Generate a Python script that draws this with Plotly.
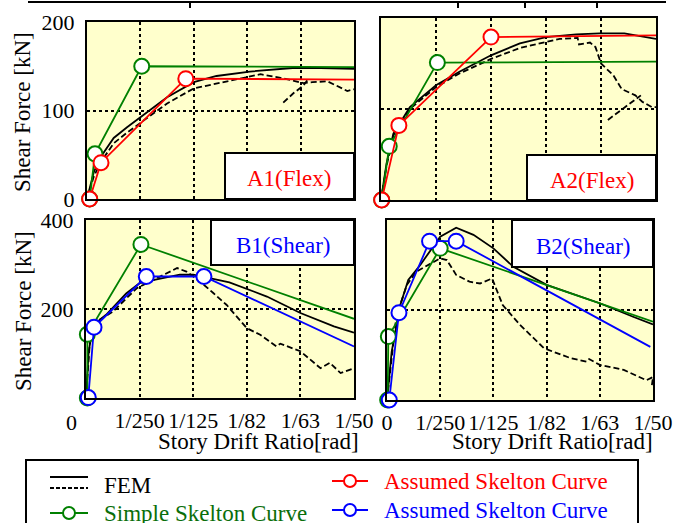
import plotly.graph_objects as go

W, H = 677, 523

# ---------------- data (story drift ratio [rad], shear force [kN]) ----------------
tick_vals = [0.004, 0.008, 0.012, 0.016, 0.020]
tick_text = ["1/250", "1/125", "1/82", "1/63", "1/50"]

# A1(Flex)
a1_fem_x = [0, 0.0005, 0.001, 0.002, 0.003, 0.0042, 0.006, 0.008, 0.0097, 0.0122, 0.0154, 0.0175, 0.020]
a1_fem_y = [0, 30, 47, 69, 81, 95, 115, 132, 139, 144, 148, 148, 147]
a1_exp_x = [0, 0.0005, 0.001, 0.002, 0.003, 0.0045, 0.006, 0.008, 0.011, 0.013, 0.0145, 0.0162, 0.0169, 0.018, 0.0187, 0.0195, 0.020]
a1_exp_y = [0, 25, 41, 63, 75, 92, 108, 125, 135, 141, 137, 131, 132, 133, 128, 122, 124]
a1_exp2_x = [0.0147, 0.0155, 0.0162, 0.0165]
a1_exp2_y = [109, 120, 128, 134]
a1_simple_x = [0.0002, 0.0006, 0.0041, 0.020]
a1_simple_y = [0, 51, 150, 149]
a1_assumed_x = [0.0002, 0.00105, 0.0074, 0.020]
a1_assumed_y = [0, 41, 136, 135]

# A2(Flex)
a2_fem_x = [0, 0.0004, 0.0009, 0.0021, 0.004, 0.0057, 0.008, 0.0101, 0.012, 0.0142, 0.0159, 0.0177, 0.020]
a2_fem_y = [0, 40, 73, 102, 126, 141, 159, 172, 179, 182, 183, 183, 177]
a2_exp_x = [0, 0.0004, 0.0009, 0.0021, 0.004, 0.0057, 0.008, 0.0101, 0.0118, 0.013, 0.0143, 0.0144, 0.0152, 0.0156,
            0.0160, 0.0169, 0.0175, 0.0185, 0.0190, 0.0197, 0.0200]
a2_exp_y = [0, 37, 71, 100, 124, 139, 155, 167, 173, 177, 178, 171, 173, 168, 150, 137, 122, 115, 108, 102, 102]
a2_exp2_x = [0.0165, 0.0177, 0.0189]
a2_exp2_y = [88, 102, 115]
a2_simple_x = [0.00005, 0.0006, 0.0041, 0.020]
a2_simple_y = [0, 59, 151, 152]
a2_assumed_x = [0.00005, 0.0013, 0.008, 0.020]
a2_assumed_y = [0, 82, 179, 181]

# B1(Shear)
b1_fem_x = [0, 0.0002, 0.00055, 0.0015, 0.003, 0.004, 0.005, 0.007, 0.008, 0.0107, 0.0135, 0.016, 0.0185, 0.020]
b1_fem_y = [0, 105, 164, 187, 235, 258, 265, 277, 277, 260, 228, 191, 161, 147]
b1_exp_x = [0, 0.0003, 0.0008, 0.002, 0.0038, 0.005, 0.0068, 0.0075, 0.0085, 0.0095, 0.0105, 0.012, 0.013,
            0.0142, 0.0145, 0.016, 0.0175, 0.0182, 0.019, 0.020]
b1_exp_y = [0, 130, 172, 194, 247, 265, 292, 284, 262, 236, 209, 157, 142, 116, 122, 105, 67, 79, 56, 67]
b1_simple_x = [0.0001, 0.0001, 0.0041, 0.020]
b1_simple_y = [0, 143, 345, 178]
b1_assumed_x = [0.00017, 0.0006, 0.0045, 0.0088, 0.020]
b1_assumed_y = [1, 159, 273, 273, 116]

# B2(Shear)
b2_fem_x = [0, 0.00035, 0.001, 0.0016, 0.0025, 0.004, 0.0052, 0.0065, 0.008, 0.0095, 0.012, 0.016, 0.0185, 0.020]
b2_fem_y = [0, 107, 211, 267, 300, 363, 383, 367, 337, 296, 256, 215, 185, 168]
b2_exp_x = [0, 0.0007, 0.0015, 0.0022, 0.004, 0.0045, 0.0052, 0.0062, 0.007, 0.0079, 0.0087, 0.010, 0.0118,
            0.0138, 0.015, 0.0152, 0.016, 0.0178, 0.0195, 0.020, 0.0199]
b2_exp_y = [0, 186, 256, 285, 315, 311, 278, 263, 259, 270, 211, 167, 115, 93, 85, 91, 78, 67, 44, 51, 29]
b2_simple_x = [0.00005, 0.0001, 0.004, 0.020]
b2_simple_y = [0, 141, 337, 174]
b2_assumed_x = [0.00017, 0.0009, 0.0032, 0.0052, 0.0198]
b2_assumed_y = [0, 194, 353, 353, 118]

# ---------------- styling ----------------
FONT = "Liberation Serif, Times New Roman, serif"
FS = 22
GREEN = "#008000"
GREEN_TXT = "#0a6e0a"
RED = "#FF0000"
BLUE = "#0000FF"
BG = "#FFFFCC"
DASH = "6px,3px"


def px(x):
    return x / W


def py(y):
    return 1 - y / H


fig = go.Figure()

panels = [
    ("", (a1_fem_x, a1_fem_y), (a1_exp_x, a1_exp_y), (a1_exp2_x, a1_exp2_y),
     (a1_simple_x, a1_simple_y), (a1_assumed_x, a1_assumed_y), RED),
    ("2", (a2_fem_x, a2_fem_y), (a2_exp_x, a2_exp_y), (a2_exp2_x, a2_exp2_y),
     (a2_simple_x, a2_simple_y), (a2_assumed_x, a2_assumed_y), RED),
    ("3", (b1_fem_x, b1_fem_y), (b1_exp_x, b1_exp_y), None,
     (b1_simple_x, b1_simple_y), (b1_assumed_x, b1_assumed_y), BLUE),
    ("4", (b2_fem_x, b2_fem_y), (b2_exp_x, b2_exp_y), None,
     (b2_simple_x, b2_simple_y), (b2_assumed_x, b2_assumed_y), BLUE),
]

for sfx, fem, exp, exp2, simple, assumed, acol in panels:
    xa, ya = "x" + sfx, "y" + sfx
    fig.add_trace(go.Scatter(x=exp[0], y=exp[1], mode="lines", xaxis=xa, yaxis=ya,
                             line=dict(color="black", width=1.8, dash=DASH)))
    if exp2 is not None:
        fig.add_trace(go.Scatter(x=exp2[0], y=exp2[1], mode="lines", xaxis=xa, yaxis=ya,
                                 line=dict(color="black", width=1.8, dash=DASH)))
    fig.add_trace(go.Scatter(x=fem[0], y=fem[1], mode="lines", xaxis=xa, yaxis=ya,
                             line=dict(color="black", width=1.8)))
    for (sx, sy), col in ((simple, GREEN), (assumed, acol)):
        fig.add_trace(go.Scatter(x=sx, y=sy, mode="lines", xaxis=xa, yaxis=ya,
                                 line=dict(color=col, width=1.8), cliponaxis=False))
        fig.add_trace(go.Scatter(x=sx[:-1], y=sy[:-1], mode="markers", xaxis=xa, yaxis=ya,
                                 cliponaxis=False,
                                 marker=dict(symbol="circle", size=15, color="white",
                                             line=dict(color=col, width=2))))

# ---------------- axes ----------------
doms = {
    "": ((87, 354), (22, 199)),
    "2": ((381, 656), (18, 200)),
    "3": ((86, 354), (220, 398)),
    "4": ((387, 653), (220, 400)),
}
layout = {}
for sfx, ((l, r), (t, b)) in doms.items():
    xa = dict(domain=[px(l), px(r)], range=[0, 0.02], showline=True, mirror=True,
              linecolor="black", linewidth=2, showgrid=True, gridcolor="black",
              griddash="dot", gridwidth=1.5, zeroline=False, ticks="",
              anchor="y" + sfx, fixedrange=True, automargin=False, tickangle=0)
    ya = dict(domain=[py(b), py(t)], showline=True, mirror=True,
              linecolor="black", linewidth=2, showgrid=True, gridcolor="black",
              griddash="dot", gridwidth=1.5, zeroline=False, ticks="",
              anchor="x" + sfx, fixedrange=True, automargin=False)
    if sfx in ("", "2"):
        ya.update(range=[0, 200], tickvals=[0, 100, 200], ticktext=["0", "100", "200"])
        xa.update(tickvals=tick_vals, showticklabels=False)
    else:
        ya.update(range=[0, 400], tickvals=[0, 200, 400], ticktext=["", "200", "400"])
        if sfx == "3":
            xa.update(tickvals=tick_vals, ticktext=tick_text)
        else:
            xa.update(tickvals=[0] + tick_vals, ticktext=["0"] + tick_text)
        xa.update(ticklabelstandoff=2, tickfont=dict(size=FS))
    if sfx in ("2", "4"):
        ya.update(showticklabels=False)
    else:
        ya.update(ticklabelstandoff=6, tickfont=dict(size=FS))
    layout["xaxis" + sfx] = xa
    layout["yaxis" + sfx] = ya

fig.update_layout(**layout)

# ---------------- shapes & annotations ----------------
shapes = []
ann = []

# remnant border line of the figure above, with its ticks
shapes.append(dict(type="line", xref="paper", yref="paper", x0=px(28), x1=px(666), y0=py(2), y1=py(2),
                   line=dict(color="black", width=2)))
for tx in (190, 458, 525, 597):
    shapes.append(dict(type="line", xref="paper", yref="paper", x0=px(tx), x1=px(tx), y0=py(2), y1=py(8),
                       line=dict(color="black", width=2)))

# specimen label boxes
labels = [
    ("A1(Flex)", RED, (225, 354, 153, 199), (289, 178)),
    ("A2(Flex)", RED, (527, 656, 155, 200), (592, 180)),
    ("B1(Shear)", BLUE, (211, 354, 220, 265), (283, 245)),
    ("B2(Shear)", BLUE, (512, 653, 220, 267), (583, 246)),
]
for txt, col, (l, r, t, b), (cx, cy) in labels:
    shapes.append(dict(type="rect", xref="paper", yref="paper", x0=px(l), x1=px(r), y0=py(b), y1=py(t),
                       fillcolor="white", line=dict(color="black", width=2), layer="above"))
    ann.append(dict(text=txt, x=px(cx), y=py(cy), xref="paper", yref="paper", showarrow=False,
                    font=dict(family=FONT, size=FS + 1, color=col), xanchor="center", yanchor="middle"))

# axis titles
for cx in (258, 552):
    ann.append(dict(text="Story Drift Ratio[rad]", x=px(cx), y=py(441), xref="paper", yref="paper",
                    showarrow=False, font=dict(family=FONT, size=FS + 1, color="black"),
                    xanchor="center", yanchor="middle"))
for cy in (112, 311):
    ann.append(dict(text="Shear Force [kN]", x=px(23), y=py(cy), xref="paper", yref="paper",
                    showarrow=False, textangle=-90, font=dict(family=FONT, size=FS + 1, color="black"),
                    xanchor="center", yanchor="middle"))
# the offset "0" of the lower-left drift axis
ann.append(dict(text="0", x=px(71), y=py(422), xref="paper", yref="paper", showarrow=False,
                font=dict(family=FONT, size=FS, color="black"), xanchor="center", yanchor="middle"))

# legend
shapes.append(dict(type="rect", xref="paper", yref="paper", x0=px(26), x1=px(638), y0=py(530), y1=py(460),
                   fillcolor="white", line=dict(color="black", width=2), layer="above"))
shapes.append(dict(type="line", xref="paper", yref="paper", x0=px(50), x1=px(88), y0=py(477), y1=py(477),
                   line=dict(color="black", width=2), layer="above"))
shapes.append(dict(type="line", xref="paper", yref="paper", x0=px(50), x1=px(88), y0=py(488), y1=py(488),
                   line=dict(color="black", width=2, dash="4px,2px"), layer="above"))
ann.append(dict(text="FEM", x=px(102), y=py(485), xref="paper", yref="paper", showarrow=False,
                font=dict(family=FONT, size=FS + 1, color="black"), xanchor="left", yanchor="middle"))
leg_items = [
    ("Simple Skelton Curve", GREEN, GREEN_TXT, 50, 88, 102, 513),
    ("Assumed Skelton Curve", RED, RED, 332, 368, 382, 481),
    ("Assumed Skelton Curve", BLUE, BLUE, 332, 368, 382, 510),
]
for txt, col, tcol, l0, l1, tx, ly in leg_items:
    shapes.append(dict(type="line", xref="paper", yref="paper", x0=px(l0), x1=px(l1), y0=py(ly), y1=py(ly),
                       line=dict(color=col, width=2), layer="above"))
    cx = (l0 + l1) / 2
    shapes.append(dict(type="circle", xref="paper", yref="paper", x0=px(cx - 6), x1=px(cx + 6),
                       y0=py(ly + 6), y1=py(ly - 6), fillcolor="white",
                       line=dict(color=col, width=2), layer="above"))
    ann.append(dict(text=txt, x=px(tx), y=py(ly), xref="paper", yref="paper", showarrow=False,
                    font=dict(family=FONT, size=FS + 1, color=tcol), xanchor="left", yanchor="middle"))

fig.update_layout(
    width=W, height=H, margin=dict(l=0, r=0, t=0, b=0, autoexpand=False), showlegend=False,
    paper_bgcolor="white", plot_bgcolor=BG,
    font=dict(family=FONT, size=FS, color="black"),
    shapes=shapes, annotations=ann,
)

fig.write_html("out.html", config={"displayModeBar": False},
               post_script="document.body.style.margin='0px';document.body.style.overflow='hidden';")
